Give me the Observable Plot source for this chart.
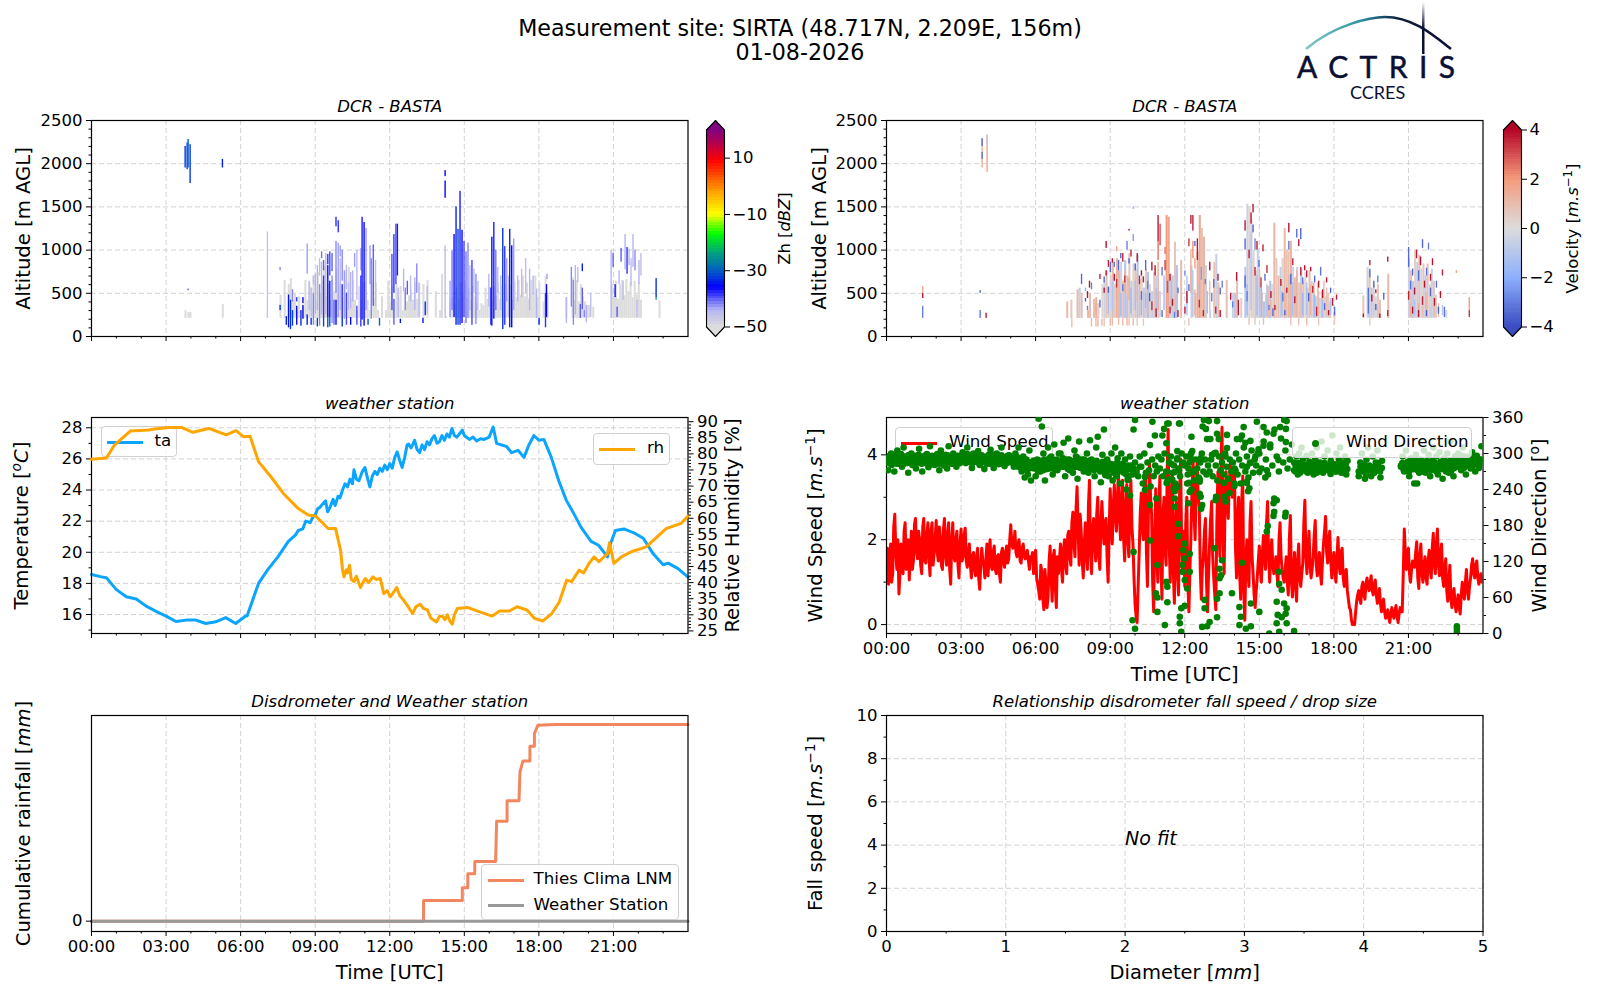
<!DOCTYPE html>
<html><head><meta charset="utf-8">
<script src="https://cdn.jsdelivr.net/npm/d3@7"></script>
<script src="https://cdn.jsdelivr.net/npm/@observablehq/plot@0.6"></script>
<style>
html,body{margin:0;padding:0;background:#fff}
#page{position:relative;width:1600px;height:1000px;overflow:hidden;font-family:"DejaVu Sans",sans-serif;color:#000}
.title{position:absolute;left:0;width:1600px;text-align:center;font-size:22.2px;line-height:24px}
.legend{position:absolute;box-sizing:border-box;background:rgba(255,255,255,.8);border:1px solid #d0d0d0;border-radius:4px;font-size:16.7px}
.legend .sw{position:absolute;height:3px}
.legend .dot{position:absolute;width:7px;height:7px;border-radius:50%;background:#008000}
.legend .tx{position:absolute;white-space:nowrap;line-height:20px}
</style></head><body><div id="page"></div>
<script>
// ---------- axis ticks ----------
const hourTicks=[0,3,6,9,12,15,18,21];
const hourMinor=[1,2,4,5,7,8,10,11,13,14,16,17,19,20,22,23];
const altTicks=[0,500,1000,1500,2000,2500];
const altMinor=[100,200,300,400,600,700,800,900,1100,1200,1300,1400,1600,1700,1800,1900,2100,2200,2300,2400];
const taTicks=[16,18,20,22,24,26,28], taMinor=[15,17,19,21,23,25,27];
const rhTicks=[25,30,35,40,45,50,55,60,65,70,75,80,85,90];
const wsTicks=[0,2,4], wsMinor=[1,3];
const wdTicks=[0,60,120,180,240,300,360], wdMinor=[30,90,150,210,270,330];
const diaTicks=[0,1,2,3,4,5], diaMinor=[0.5,1.5,2.5,3.5,4.5];
const fallTicks=[0,2,4,6,8,10], fallMinor=[1,3,5,7,9];
const zhCbarTicks=[-50,-30,-10,10], velCbarTicks=[-4,-2,0,2,4];

// ---------- colour maps ----------
const zhStops=[-50,-44,-36,-30,-24,-17,-10,-2,9,14,20];
const zhColors=["#dcdcdc","#b4b4f4","#0000ff","#0060c0","#00a080","#00ff00","#ffff00","#ffa000","#ff0000","#c00040","#800080"];
const velStops=[-4,-2,0,2,4];
const velColors=["#3b4cc0","#8db0fe","#dddcdc","#f49a7b","#b40426"];

// ---------- reflectivity: weak-echo columns, 12 per hour from 07:00, top altitude (0 = no echo) ----------
const zhGreyTop=[
0,0,0,0,0,0,0,480,0,650,0,600,
670,420,500,300,460,0,350,650,420,620,560,700,
420,740,500,640,810,460,600,420,650,520,780,480,
620,460,760,520,800,440,650,420,300,580,420,620,
640,420,300,650,440,620,300,0,460,0,300,640,
400,580,420,600,450,580,300,520,400,470,540,420,
620,430,610,0,600,0,650,0,0,0,520,0,
300,720,0,230,0,400,450,380,560,430,620,480,
620,440,560,420,580,460,380,300,380,360,560,430,
570,420,580,460,620,430,580,420,600,460,590,420,
640,450,650,480,700,460,620,430,650,500,700,450,
620,0,400,690,480,0,0,0,0,0,0,0,
0,450,0,0,680,420,650,400,600,460,400,360,
360,0,340,0,0,0,0,0,0,0,0,600,
460,640,430,600,650,470,660,520,630,450,640,480,
620,420,0,0,0,0,0,0,0,0,410,0];
const zhGreyEarly=[[3.76,300],[3.88,280],[3.96,280],[5.26,370]];
// reflectivity segments: hour, bottom m, top m, dBZ
const zhSeg=[
[3.76,1950,2200,-33],[3.84,1930,2240,-32],[3.88,1950,2280,-30],[3.96,1770,2220,-33],[5.26,1950,2050,-34],[3.88,530,550,-40],
[7.07,210,1210,-46],[7.58,300,360,-33],[7.58,760,800,-42],[7.83,130,230,-34],[7.92,100,480,-35],[8.0,80,420,-33],[8.08,120,300,-32],[8.08,400,540,-42],
[8.25,130,350,-36],[8.25,400,450,-38],[8.42,120,300,-34],[8.5,200,360,-36],[8.5,380,450,-36],
[8.67,130,250,-34],[8.67,720,1070,-43],[8.75,300,640,-45],[8.83,130,210,-33],[8.83,230,560,-45],[8.92,130,500,-42],[8.92,600,700,-45],
[9.0,260,720,-44],[9.08,110,210,-32],[9.08,300,820,-44],[9.17,120,600,-42],[9.17,700,900,-45],[9.25,250,860,-44],[9.25,900,980,-41],
[9.33,110,220,-32],[9.33,220,700,-38],[9.33,760,880,-40],[9.42,250,960,-44],[9.5,100,220,-31],[9.5,220,820,-36],[9.5,830,950,-38],[9.58,110,220,-30],[9.58,220,640,-35],[9.58,700,980,-39],[9.67,150,700,-42],[9.67,750,960,-40],
[9.75,130,420,-40],[9.83,130,420,-36],[9.83,500,1100,-42],[9.83,1270,1380,-38],[9.92,220,1080,-43],[9.92,1200,1340,-38],[10.0,300,900,-44],[10.0,920,1050,-43],[10.08,110,220,-33],[10.08,220,600,-38],[10.08,640,1000,-42],
[10.17,200,760,-43],[10.25,130,500,-39],[10.25,540,820,-45],[10.33,300,620,-45],[10.42,130,220,-36],[10.42,320,740,-44],[10.5,400,760,-44],[10.58,800,960,-43],[10.67,130,350,-39],[10.67,420,1000,-45],
[10.83,110,700,-38],[10.83,760,1020,-43],[10.88,190,1380,-37],[10.96,120,1320,-36],[11.04,300,1250,-43],[11.12,130,200,-31],[11.2,600,1050,-43],[11.25,200,900,-42],[11.33,350,1060,-40],[11.42,350,880,-45],[11.58,120,210,-30],
[12.08,300,950,-39],[12.16,500,1180,-38],[12.16,130,430,-40],[12.24,600,1300,-39],[12.3,700,1300,-37],[12.33,220,560,-44],[12.42,150,200,-35],
[12.55,520,780,-44],[12.62,300,560,-42],[12.7,480,640,-40],[12.83,400,700,-45],[13.0,300,680,-44],[13.08,500,840,-42],[13.17,220,620,-45],[13.42,240,400,-33],[13.33,150,210,-35],[13.5,260,580,-45],
[14.22,1600,1800,-36],[14.22,1850,1920,-36],[14.22,210,1050,-45],
[14.42,220,640,-43],[14.5,300,990,-41],[14.58,220,1180,-36],[14.66,130,1500,-34],[14.74,130,1240,-32],[14.82,130,1680,-37],[14.9,150,1230,-36],[14.98,220,1100,-39],[15.06,150,980,-41],[15.14,210,1080,-42],[15.22,300,820,-44],[15.3,130,880,-39],[15.38,500,780,-45],[15.46,140,720,-42],[15.54,300,640,-45],
[15.98,340,720,-44],[16.06,130,560,-38],[16.1,120,1150,-35],[16.18,200,1320,-37],[16.26,300,1000,-41],[16.34,500,800,-45],[16.46,300,700,-45],[16.54,80,1250,-33],[16.62,130,1040,-38],[16.7,400,900,-43],[16.78,220,700,-44],[16.82,100,1240,-34],[16.9,100,1050,-36],[16.98,300,1130,-43],
[17.14,400,700,-45],[17.3,450,780,-45],[17.46,500,900,-45],[17.62,300,780,-44],[17.76,480,700,-44],[17.9,210,550,-44],[18.0,130,210,-34],[18.26,100,500,-38],[18.3,220,600,-36],[18.32,660,720,-43],
[19.1,150,450,-44],[19.3,340,800,-42],[19.38,130,650,-42],[19.46,250,820,-44],[19.56,620,800,-45],[19.66,210,370,-40],[19.74,750,840,-34],[19.74,310,560,-40],[19.82,220,300,-42],[19.9,160,360,-44],[20.08,220,500,-45],
[20.9,210,1000,-44],[20.98,800,960,-40],[21.06,450,600,-35],[21.14,220,340,-40],[21.22,600,760,-44],[21.3,860,1020,-40],[21.38,420,640,-45],[21.46,770,1180,-44],[21.54,720,1030,-38],[21.62,820,1010,-44],[21.7,580,900,-45],[21.78,800,1180,-44],[21.86,760,1000,-42],[21.94,220,420,-45],[22.02,600,880,-44],[22.1,700,960,-45],
[22.71,450,670,-33],[22.71,420,450,-24]];

// ---------- velocity: columns, 12 per hour from 07:00, top altitude and background value ----------
const velTop=[
0,0,0,400,0,420,0,0,540,560,500,0,
0,300,500,0,430,450,380,0,600,640,760,580,
700,860,600,900,760,860,640,880,700,960,640,840,
780,940,660,700,560,780,740,600,520,740,560,520,
0,0,0,1400,1380,720,700,1090,820,0,880,0,
0,0,0,820,0,500,980,1400,1250,1150,820,0,
300,0,860,950,620,0,0,0,650,0,0,500,
500,650,0,440,0,800,1530,1500,1350,1000,760,1000,
620,500,400,480,580,640,600,1310,900,700,800,900,
1250,1000,700,1100,800,680,800,620,780,640,740,560,
760,640,620,460,620,440,520,640,460,500,400,0,
280,0,0,0,0,0,0,0,0,0,0,0,
0,0,470,0,800,760,560,620,460,600,420,0,
0,0,720,0,0,0,0,0,0,0,0,0,
900,760,640,1000,860,940,780,840,700,840,600,780,
640,480,0,0,0,0,300,0,0,0,0,0];
const velBase=[
0,0,0,1.0,0,0.6,0,0,1.1,-0.6,0.8,0,
0,1.1,0.9,0,1.0,1.2,0.5,0,0.2,-0.4,0.8,0.4,
-0.3,1.0,0.5,1.2,1.1,-0.4,0.8,-1.1,0.9,0.6,-0.7,0.4,
0.8,-1.0,1.0,0.2,-0.8,0.5,-1.1,0.2,-0.6,0.7,-0.9,0.4,
0,0,0,1.9,1.6,0.4,-0.6,0.7,-1.0,0,0.9,0,
0,0,0,-0.6,0,0.9,1.4,1.6,0.9,1.2,-0.5,0,
-0.6,0,0.8,-0.6,1.0,0,0,0,0.8,0,0,-0.4,
-0.8,0.8,0,0.4,0,-0.9,-0.5,0.3,0.2,-0.2,0.9,-0.5,
-0.9,0.5,-1.0,0.6,0.9,-1.1,0.2,1.1,0.6,0.9,-0.7,0.3,
1.1,0.8,-0.8,1.2,-0.3,0.9,-0.5,0.7,-1.0,0.8,0.2,-0.7,
0.9,-0.4,1.0,-0.7,0.6,-0.2,1.0,0.3,-0.5,0.6,0.7,0,
0.8,0,0,0,0,0,0,0,0,0,0,0,
0,0,0.6,0,-0.4,0.7,-0.9,0.4,-0.2,0.6,0.8,0,
0,0,1.0,0,0,0,0,0,0,0,0,0,
-0.5,0.7,-0.8,0.5,-0.6,0.9,-0.3,0.6,-0.9,0.8,0.4,-0.6,
0.7,0.5,0,0,0,0,-0.2,0,0,0,0,0];
// pale patches inside the columns: hour, bottom m, top m, m/s
const velPale=[
[8.42,110,210,1.1],[8.75,110,210,0.8],[8.92,260,520,-1.3],[9.08,120,210,0.9],[9.08,300,640,-1.1],[9.25,420,700,1.4],[9.42,230,500,-1.5],[9.5,120,210,1],[9.58,500,760,1.3],[9.67,220,460,-1],[9.75,120,210,0.8],[9.75,420,680,1.5],[9.83,260,560,-1.6],[9.92,120,210,1.1],[10.0,300,640,-1.3],[10.08,400,720,1.2],[10.25,240,480,-1.7],[10.33,120,200,0.7],[10.42,320,500,-1.5],[10.5,260,420,1.2],
[10.84,240,700,-1.2],[10.92,300,860,1.7],[11.0,220,520,-0.8],[11.16,300,700,-1.5],[11.3,220,500,1.3],[11.45,300,640,-1.4],[11.62,240,480,1.1],
[12.08,240,700,-1.2],[12.16,120,210,0.7],[12.24,500,1000,1.5],[12.32,220,760,-1.1],[12.4,240,540,1.3],[12.58,450,600,-1.5],[12.9,260,520,-1.4],[13.0,300,640,1],
[14.5,240,600,-1.5],[14.58,130,210,0.8],[14.66,300,1200,-1],[14.74,210,900,0.3],[14.82,130,210,0.6],[14.9,240,700,-1.4],[15.0,300,780,1.1],[15.08,220,560,-1.6],[15.16,130,210,0.9],[15.3,230,600,-1.2],[15.46,230,420,1.2],
[15.9,230,520,-1.5],[16.02,300,540,1.3],[16.18,220,980,1.2],[16.26,120,210,0.8],[16.34,240,620,-1.4],[16.5,220,760,1.3],[16.58,120,210,0.7],[16.66,220,620,0.8],[16.74,240,500,-1.6],[16.9,120,210,1],[16.9,240,620,-1.2],[17.06,240,600,1.2],[17.22,220,480,-1.5],[17.38,120,210,0.6],[17.38,240,520,1.1],[17.54,220,420,-1.3],[17.7,240,560,1],[17.86,240,440,-1.2],[18.02,130,210,0.5],
[19.4,220,440,-1],[19.44,120,210,0.5],[19.6,240,380,-0.8],[19.76,220,340,0.9],
[21.08,220,380,1.3],[21.24,240,420,-1.1],[21.4,230,380,1.4],[21.56,220,350,0.8],[21.72,240,500,1.1],[21.88,220,340,-0.6],[22.04,230,440,1],[22.2,220,380,0.9],[22.36,240,360,-1]];
// strong velocity segments: hour, bottom m, top m, m/s
const velSeg=[
[1.45,210,350,-3],[1.45,440,500,3.8],[1.45,500,580,1.6],[3.76,210,300,-3.2],[3.76,500,530,-3.6],[3.84,1950,2280,1.4],[3.84,2050,2130,-3.2],[3.84,2200,2290,-3.4],[4.0,210,270,3.8],[4.04,1900,2330,1.8],[4.04,2200,2330,-0.8],
[7.45,100,210,0.9],[7.84,600,720,-3.4],[8.0,520,560,-2],[8.0,400,440,-3.6],[8.08,440,520,3.8],[8.08,300,350,-3],[8.16,560,640,3.8],[8.24,540,620,-3],[8.24,110,210,1.1],
[8.42,250,380,1.4],[8.5,110,220,1.2],[8.58,660,720,3.6],[8.58,330,420,-3.4],[8.66,120,200,1.1],[8.75,500,560,3.8],[8.75,620,690,-3.4],[8.83,700,760,3.8],[8.83,1020,1100,3.9],[8.92,800,880,3.6],[8.92,500,570,-3.6],
[9.0,740,860,-3.5],[9.0,120,210,1],[9.08,850,900,3.9],[9.16,640,720,3.8],[9.16,800,860,-3.2],[9.25,980,1040,2],[9.25,560,660,3.4],[9.33,760,880,-3.4],[9.33,130,210,1],[9.42,900,960,-3.5],[9.5,860,960,3.7],[9.5,520,600,-3.2],[9.58,620,700,3.4],[9.67,1000,1100,-3],[9.67,120,220,1.2],[9.75,1220,1240,3.8],[9.75,840,900,-3.5],[9.83,920,1000,3.7],[9.92,1100,1180,-2.4],[9.92,1470,1500,-1.8],[10.0,760,840,-3.6],[10.08,860,960,3.8],[10.08,120,210,0.6],[10.17,600,700,3.6],[10.25,700,760,3.9],[10.25,420,520,-3.2],[10.33,620,690,3.7],[10.42,760,880,-3.4],[10.5,540,640,-3],[10.58,400,500,-3.6],[10.67,300,400,3.5],[10.67,760,860,3.8],
[10.8,700,820,3.8],[10.84,220,320,3.7],[10.92,1100,1400,3.8],[10.92,880,1100,2.6],[11.0,1050,1300,3.1],[11.08,700,800,-3.2],[11.08,220,300,-3.4],[11.2,760,880,3.3],[11.2,950,1030,2.6],[11.3,500,640,-3.2],[11.4,640,720,3.8],[11.4,260,340,3.6],[11.5,350,430,3.8],[11.58,210,280,-3],[11.72,500,560,-3.5],[11.72,220,300,3.8],
[12.0,260,340,3.8],[12.0,700,760,-2.8],[12.08,380,520,3.8],[12.16,1040,1130,3.4],[12.16,520,600,-3.4],[12.24,1300,1400,3.8],[12.32,900,1100,2.2],[12.32,1220,1400,3.7],[12.4,780,900,1.8],[12.4,1040,1100,-3.4],[12.5,880,1130,3.8],[12.58,330,420,3.5],[12.66,650,800,-2.4],[12.74,230,300,3.6],
[12.82,600,660,-3],[13.0,760,860,3.9],[13.08,400,500,-3],[13.16,560,660,-3.4],[13.24,260,340,3.6],[13.33,640,720,3.8],[13.42,480,560,-3.4],[13.42,220,300,3.8],[13.5,560,640,-3],
[13.84,420,500,3.8],[13.92,330,400,-3],[14.08,640,740,3.9],[14.15,240,420,3.8],[14.42,560,700,-3.4],[14.42,1220,1340,3.8],[14.42,1000,1130,-3.5],[14.5,400,520,-3],[14.58,900,1000,3.8],[14.66,1300,1430,3.8],[14.74,1430,1530,3.9],[14.74,1200,1290,-3.6],[14.82,1000,1130,-2.8],[14.82,700,800,3.6],[14.9,1000,1100,3.8],[14.98,800,880,-3.4],[15.06,560,680,3.4],[15.14,980,1060,3.7],[15.22,640,720,-3.4],[15.3,730,820,3.5],[15.38,300,360,-3],[15.46,440,520,3.8],[15.54,230,320,-3.4],[15.62,300,360,3.7],
[15.86,580,660,3.8],[15.94,400,500,-3.2],[16.02,240,300,-3.6],[16.1,500,560,3.8],[16.18,1200,1310,3.9],[16.18,1000,1100,-3.2],[16.26,600,720,-3.5],[16.34,820,900,3.7],[16.42,380,460,3.8],[16.5,1140,1240,-3.4],[16.58,1040,1120,3.8],[16.66,1120,1250,-3.5],[16.66,700,800,3.6],[16.74,600,680,-3],[16.82,760,820,3.9],[16.9,680,760,3.8],[16.98,400,500,-3.5],[17.06,750,800,3.8],[17.14,500,580,3.5],[17.22,620,700,-3.4],[17.3,230,340,3.6],[17.38,560,640,3.8],[17.46,700,800,-3.2],[17.54,440,540,3.8],[17.62,300,380,-3.4],[17.7,620,680,3.8],[17.78,240,300,3.9],[17.86,500,560,-3.6],[17.94,350,440,3.8],[18.02,240,340,-3.4],[18.1,420,480,3.7],
[19.18,220,260,3.8],[19.38,260,560,-3.2],[19.44,680,780,-3.2],[19.44,820,880,3.7],[19.52,400,480,3.8],[19.6,560,640,-3.4],[19.68,300,370,-3.6],[19.68,500,540,3.8],[19.76,620,700,-3],[19.84,210,260,3.8],[20.0,420,500,-3.5],[20.16,860,920,3.8],[20.16,230,300,3.6],
[21.0,800,1030,-3.4],[21.0,420,520,3.7],[21.08,540,640,-3.2],[21.16,260,340,3.8],[21.16,700,780,-3.5],[21.24,480,560,3.8],[21.32,900,1000,3.7],[21.4,640,760,-3.4],[21.4,220,300,3.8],[21.48,820,920,3.9],[21.56,1020,1120,-3.5],[21.56,360,460,3.6],[21.64,560,640,3.8],[21.72,700,790,-3.3],[21.72,230,300,-3.6],[21.8,1000,1080,-3],[21.88,460,560,-3.4],[21.88,640,720,3.8],[21.96,820,900,3.8],[22.04,350,440,3.7],[22.12,560,640,-3.4],[22.2,260,340,-3.6],[22.28,440,520,3.8],[22.36,700,770,3.6],[22.44,220,340,-3.2],[22.92,730,760,2],
[23.44,220,300,3.4],[23.44,300,450,2]];

// ---------- weather station ----------
const taHours=[0,0.4,0.6,1.0,1.4,1.8,2.2,2.6,3.0,3.4,3.8,4.2,4.6,5.0,5.4,5.8,6.2,6.26,6.72,7.1,7.5,7.92,8.2,8.32,8.5,8.62,8.8,8.92,9.0,9.1,9.2,9.3,9.42,9.5,9.6,9.72,9.8,9.92,10.0,10.1,10.2,10.3,10.4,10.5,10.56,10.66,10.76,10.9,11.0,11.1,11.2,11.3,11.4,11.5,11.6,11.7,11.8,11.9,12.0,12.1,12.2,12.3,12.4,12.5,12.6,12.7,12.76,12.86,13.0,13.1,13.2,13.3,13.4,13.5,13.6,13.7,13.8,13.9,14.0,14.1,14.2,14.3,14.4,14.5,14.6,14.7,14.8,14.92,15.0,15.2,15.35,15.5,15.65,15.8,16.0,16.16,16.3,16.7,16.9,17.16,17.4,17.6,17.8,18.0,18.2,18.5,18.8,19.1,19.4,19.7,20.1,20.4,20.76,20.88,21.08,21.42,21.82,22.2,22.6,23.0,23.2,23.6,24];
const taValues=[18.57,18.42,18.36,17.6,17.14,17.0,16.54,16.2,15.9,15.55,15.64,15.64,15.42,15.53,15.8,15.42,15.9,15.9,18.0,18.9,19.7,20.7,21.1,21.4,21.5,22.0,21.9,22.3,22.4,22.8,22.9,23.1,23.3,22.6,22.9,23.4,23.0,23.6,23.5,24.0,24.4,24.2,24.7,24.4,25.3,24.7,24.6,25.2,25.45,24.8,24.2,24.9,25.2,25.0,25.4,25.2,25.6,25.3,25.7,25.4,26.1,26.45,25.9,25.45,26.1,26.9,26.95,26.7,27.2,26.6,26.4,26.9,26.6,27.1,26.9,27.3,27.5,27.0,27.1,27.5,27.2,27.6,27.4,27.95,27.5,27.4,27.6,27.85,27.5,27.25,27.4,27.15,27.3,27.25,27.4,28.05,27.0,26.8,26.4,26.55,26.1,26.9,27.5,27.2,27.25,26.1,24.6,23.35,22.5,21.6,20.7,20.45,19.7,20.55,21.4,21.5,21.25,20.9,19.9,19.2,19.3,18.95,18.4];
const rhHours=[0,0.6,0.92,1.56,2.32,2.52,3.12,3.62,4.08,4.72,5.42,5.82,6.12,6.38,6.72,7.22,7.72,8.32,8.72,9.02,9.52,9.82,10.02,10.1,10.16,10.25,10.3,10.38,10.45,10.56,10.66,10.82,10.92,11.02,11.15,11.32,11.45,11.62,11.76,11.9,12.02,12.15,12.28,12.4,12.5,12.7,12.92,13.05,13.22,13.35,13.52,13.65,13.88,14.0,14.12,14.22,14.32,14.42,14.52,14.6,14.72,15.12,15.62,16.12,16.42,16.82,17.12,17.52,17.82,18.16,18.52,18.82,19.12,19.32,19.62,19.8,20.02,20.22,20.42,20.76,20.84,21.02,21.32,21.72,22.32,23.12,23.72,24];
const rhValues=[78.3,78.7,82.7,87.1,87.4,87.7,88.2,88.2,86.7,87.9,85.9,87.2,85.3,85.5,77.6,72.9,67.7,63,61,60.7,56.8,56.8,50.1,44,41.8,44,43,45.4,41,40.3,42,38.5,40,41.3,40,41.8,41,41.3,36.6,37.5,35.6,37,38.5,36,35.1,33,30.4,32.5,33.3,32,31.5,29,27.8,29.5,29.6,28.5,30,28,27.1,30,32,32.3,30.9,29.6,31.2,31.2,32.5,31.5,28.9,28.1,30.4,34,40.8,40.3,43.9,43,46,48,46.5,49,52.4,46,48,49.6,51.1,56.8,58.4,60.7];
// wind speed: 12 readings per hour from 00:00
const windSpeedA=[
1.3,0.95,1.9,1.2,2.6,1.3,0.72,1.9,1.2,2.4,1.55,1.05,
2.2,1.5,2.5,1.55,2.0,1.2,2.5,1.45,2.4,1.15,2.4,1.7,
2.45,1.5,2.05,1.3,2.5,1.4,2.4,0.95,2.4,1.5,2.2,1.1,
2.25,1.6,2.27,1.35,1.9,1.1,1.7,1.15,1.8,0.83,1.8,1.4,
1.55,1.15,2.0,1.3,1.85,1.2,1.65,1.0,1.8,1.35,1.85,1.55,
2.35,1.8,2.2,1.6,2.0,1.45,1.9,1.55,1.75,1.3,1.5,1.2,
1.75,0.95,0.6,1.25,0.35,0.95,0.65,1.85,0.55,1.75,0.4,1.2,
1.9,1.0,2.0,1.2,2.2,1.4,2.65,1.6,3.25,1.4,2.2,1.1,
2.4,1.3,3.4,1.2,2.5,1.5,3.0,1.3,2.9,1.9,2.5,1.0,
3.2,1.9,3.3,2.2,3.6,2.0,3.4,1.5,3.3,1.6,3.4,1.9,
0.5,0.05,1.7,3.1,2.0,3.6,0.9,3.8,2.6,0.3,3.2,1.0,
3.5,0.6,3.0,1.4,4.6,1.0,3.6,0.5,2.9,0.7,3.9,1.2,
0.9,3.0,0.3,2.1,3.9,2.0,3.8,2.8,0.6,1.6,2.5,0.3,
1.9,2.9,1.1,0.35,3.6,1.6,4.65,1.2,3.6,2.5,3.8,3.0,
3.7,1.1,3.0,0.6,3.5,0.1,2.0,0.9,2.9,1.2,0.4,1.1,
1.85,1.0,2.1,1.3,2.9,1.0,2.0,1.2,1.6,0.9,2.4,1.3,
1.0,1.6,0.7,2.57,0.65,1.7,0.55,1.9,0.9,1.45,2.93,1.2,
2.2,1.1,1.6,2.45,1.15,1.7,0.95,1.9,2.55,1.45,2.2,1.1,
1.7,1.0,2.05,1.2,1.8,0.9,1.3,0.6,0.35,0.0,0.0,0.55,
0.8,0.5,1.0,0.6,1.1,0.8,1.15,0.7,1.05,0.5,0.85,0.3,
0.6,0.15,0.35,0.05,0.4,0.15,0.45,0.05,0.4,0.3,2.25,1.3,
1.8,1.0,1.5,1.35,1.95,0.85,1.9,1.0,1.6,0.95,1.75,1.1,
2.15,1.2,2.25,1.15,1.9,0.9,1.55,0.55,1.4,0.4,0.85,0.3,
0.7,0.25,1.0,0.6,1.3,0.6,1.1,1.55,1.1,1.5,0.95,1.2];
// readings between the ones above (half a step later)
const windSpeedB=[
1.8,1.4,1.0,2.3,1.7,2.0,1.2,1.5,2.2,1.3,2.0,1.6,
1.3,2.35,1.7,2.2,1.4,2.3,1.5,2.1,1.6,2.2,1.4,2.0,
1.7,2.3,1.4,2.25,1.6,2.1,1.3,2.0,1.6,2.0,1.4,1.9,
1.5,2.1,1.5,1.7,1.4,1.6,1.3,1.6,1.1,1.4,1.5,1.1,
1.9,1.5,1.4,1.7,1.3,1.6,1.2,1.7,1.5,1.7,1.45,2.0,
1.9,1.9,1.7,1.9,1.5,1.8,1.6,1.7,1.5,1.6,1.7,1.55,
1.1,0.8,1.4,0.6,1.3,0.4,1.5,1.1,1.6,0.9,1.6,1.5,
1.3,1.8,1.4,2.1,1.6,2.4,1.9,2.7,2.3,2.6,1.5,1.9,
1.6,2.8,1.7,2.2,1.9,2.6,1.6,2.4,2.3,2.4,1.6,2.2,
2.5,2.8,2.6,3.0,2.5,2.9,2.0,2.8,2.0,2.9,2.3,1.1,
0.2,0.9,2.6,2.3,3.3,1.7,2.8,3.0,1.0,2.1,1.6,2.8,
1.4,2.6,1.8,3.6,1.9,3.0,1.2,2.4,1.2,3.1,1.9,2.2,
2.4,1.0,1.3,3.2,2.6,3.2,3.0,1.3,1.3,2.2,1.0,1.2,
2.5,1.6,0.7,2.4,2.2,3.9,2.0,3.0,2.9,3.3,3.3,3.4,
1.8,2.5,1.2,2.9,0.8,1.5,1.3,2.4,1.6,0.7,0.8,1.5,
1.3,1.7,1.6,2.4,1.6,1.6,1.4,1.3,1.2,2.0,1.6,1.1,
1.3,1.0,2.0,1.0,1.3,0.9,1.5,1.1,1.2,2.4,1.6,1.8,
1.4,1.3,2.1,1.4,1.4,1.2,1.5,2.2,1.7,2.0,1.5,1.5,
1.2,1.6,1.4,1.7,1.1,1.2,0.8,0.4,0.1,0.05,0.3,0.7,
0.6,0.9,0.7,0.95,0.9,1.0,0.8,0.95,0.7,0.7,0.5,0.5,
0.3,0.2,0.15,0.25,0.25,0.3,0.2,0.25,0.3,1.2,1.7,1.6,
1.2,1.3,1.4,1.7,1.1,1.6,1.2,1.4,1.1,1.5,1.3,1.8,
1.4,1.9,1.4,1.7,1.1,1.3,0.8,1.0,0.6,0.7,0.5,0.5,
0.4,0.7,0.8,1.0,0.8,0.9,1.4,1.2,1.4,1.1,1.1,1.0];
// wind direction: [start hour, end hour, degrees read in time order]
const windDirBands=[
[0,1,[288,272,295,300,285,270,292,305,283,296,278,310,290,287,268,294]],
[1,2,[300,282,291,275,296,308,286,270,293,284,299,277,312,289,292,281]],
[2,3,[286,294,272,305,290,280,298,275,312,288,283,300,293,278,296,285]],
[3,4,[295,302,290,284,310,297,286,276,300,292,288,304,281,295,289,274]],
[4,5,[291,283,298,306,287,276,293,300,282,289,310,294,279,291,285,297]],
[5,6,[286,292,278,300,288,310,283,270,295,260,290,265,305,255,285,275]],
[6,7,[262,290,358,270,345,300,255,282,310,275,295,265,315,288,272,300]],
[7,8,[300,278,318,262,290,325,272,285,268,305,295,258,320,280,290,270]],
[8,9,[282,300,268,322,290,275,262,310,328,284,252,298,340,270,290,262]],
[9,10,[283,300,255,278,310,262,292,272,250,300,283,268,290,240,275,262,295,280,265,275]],
[10,11,[285,270,262,295,278,250,300,268,285,272,245,290,262,280,270,295]],
[11,12,[275,290,262,300,270,255,285,295,268,280,250,290,275,262,300,285]],
[12,13,[280,295,265,285,300,270,255,290,275,260,285,300,270,290,265,280]],
[13,14,[270,290,262,300,280,255,295,272,285,265,300,278,258,290,270,285]],
[14,15,[275,300,265,290,250,280,310,270,295,260,285,305,268,290,280,300]],
[15,16.4,[300,275,320,290,265,310,280,340,295,270,325,285,305,275,290,315]],
[16.4,17,[285,270,295,265,300,278,310,290,280,272,296,268]],
[17,18,[280,270,300,265,290,310,275,285,320,268,295,280,305,272,288,330]],
[18,18.6,[282,270,300,278,290,310,268,285,275,295,265,288]],
[19,20,[262,285,300,270,258,290,310,275,262,295,268,285,305,272,260,288]],
[20.7,21.5,[280,295,270,305,285,262,292,275,250,298,282,268]],
[21.5,23,[290,275,305,268,288,298,262,285,310,272,295,265,302,280,258,292,276,300,268,320,288,262,295,278]],
[23,24,[300,282,272,310,290,265,295,285,275,302,288,270,296,280,290,312]]];
// the dense core of the wind direction band
const windDirCore=[
[0,3,[286,292,284,296,288,281,294,298,286,290,283,296,291,285,299,288,282,295,287,293,284,297,290,286,294,281,292,288,296,284,290,298,286,293,283,295,289,285,297,291,284,294,288,282,296,290,287,293,285,299,289,283,292,296,286,290,294,284,288,297,292,285,290,295,283,288,296,291,286,293,287,284]],
[3,6,[292,297,288,295,290,285,299,293,287,296,291,284,294,289,298,286,292,295,283,290,297,288,293,285,294,290,296,287,283,292,298,289,285,294,291,287,295,283,290,297,288,286,293,291,284,296,289,293,286,290,284,292,280,288,294,278,290,284,276,288,282,274,290,280,272,286,278,284,276,282,288,280]],
[6,9,[278,284,270,288,276,282,272,290,280,274,286,292,278,284,288,274,282,290,276,286,280,284,292,278,286,282,274,290,280,284,276,288,282,278,292,284,276,286,280,290,274,284,278,288,282,276,286,272,280,288,284,276,270,282,286,278,264,284,280,272]],
[9,10,[275,282,268,278,285,270,276,282,272,265,280,274,278,268]],
[16.4,18.6,[272,280,276,284,268,278,282,274,270,280,286,276,272,284,278,268,274,282,276,270,284,278,272,280,266,276,282,274,270,278,284,272,276,268,282,274]],
[19,20,[270,278,274,282,266,276,280,272,268,278,274,284,270,276]],
[20.7,24,[278,284,272,282,276,286,270,280,284,274,278,288,272,282,276,284,270,280,286,274,278,282,272,288,276,284,270,280,278,286,274,282,276,270,284,278,288,272,282,276,284,292,278,286,282,296,276,288,284,292,280,286,278,294,284,288,282,276,290,284]]];
const windDirScatter=[[9.9,22],[10,8],[9.94,136],[10.6,155],[10.9,114],[10.84,67],[10.9,60],[10.9,36],[11.2,14],[11.3,78],[11.26,86],[11.3,52],[11.74,183],[11.74,162],[12,150],[11.94,139],[12.2,133],[12,125],[11.9,114],[11.9,103],[12.2,103],[12,89],[12.1,75],[11.86,42],[12,46],[11.8,28],[11.8,17],[11.86,3],[12.8,56],[12.8,42],[13.2,142],[13.5,122],[13.4,108],[13.46,97],[13.4,92],[13.3,58],[13.3,27],[13,19],[12.7,11],[12.9,12],[13.4,67],[13.9,67],[14.3,118],[14.2,44],[14.26,28],[14.2,14],[14.46,8],[14.66,12],[14.66,50],[15,36],[15.34,179],[15.7,222],[15.6,225],[15.6,203],[16.06,201],[15.8,103],[15.8,83],[15.9,73],[15.7,53],[16,50],[16.1,42],[15.74,31],[15.9,27],[16.06,33],[15.7,17],[16.1,17],[15.4,0],[16.4,4],[15.8,3],
[11.35,350],[11.77,350],[11.17,341],[12.77,356],[12.97,354],[13.3,354],[12.72,345],[12.85,341],[12.9,324],[13.03,324],[13.3,333],[13.37,324],[13.7,331],[12.27,328],[13.7,309],[13.24,301],[11.7,304],[11.7,292],[12.3,304],[12.24,292],[12.64,292],[13.1,298],[13.64,295],[11.45,283],[11.6,269],[11.77,272],[11.27,251],[11.4,257],[11.6,237],[11.6,225],[12.15,275],[12.37,269],[12.6,257],[12.64,228],[12.17,251],[12.27,240],[12.66,208],[12.15,217],[13.24,222],[13.64,220],[13.57,251],[14.04,272],[14,246],[13.8,234],[14.55,237],[14.5,251],[14.5,278],[14.37,344],[14.24,324],[14.3,330],[14.1,324],[14.44,318],[14.64,321],[14.9,353],[15.17,344],[15.3,335],[15.57,333],[15.84,344],[16,356],[16.1,354],[16.07,341],[16.07,319],[15.17,313],[15.44,315],[14.97,307],[14.84,295],[14.64,284],[15,269],[15.24,260],[15.3,272],[15.77,289],[15.57,217],[15.57,196],[16.04,195],[15.3,170],
[10,356],[9.94,340],[10.7,353],[10.6,314],[11.1,330],[11.26,317],[11.3,350],[11.8,350],[10.8,330],[10.2,278],[10.4,261],[9.7,256],[9.8,230],[10.4,239],[10.6,214],[10.86,225],[11.5,256],[11.7,244],[11.6,211],[11.56,241],[12.1,250],[12.6,253],[12.2,236],[12.6,233],[12.7,214],[13.26,228],[13.6,228],[14.5,253],[14.6,242],[14,250],
[21.35,250],[22.95,8],[22.95,3],[22.95,12]];
// cumulative rainfall
const rainHours=[0,13.36,13.36,14.92,14.92,15.14,15.14,15.42,15.42,16.26,16.3,16.72,16.72,17.2,17.24,17.36,17.64,17.64,17.82,17.82,17.96,18.66,24];
const thiesRain=[0,0,0.62,0.62,1.0,1.0,1.42,1.42,1.79,1.79,2.99,2.99,3.61,3.61,4.47,4.8,4.8,5.24,5.24,5.62,5.87,5.89,5.89];
const stationHours=[0,24];
const stationRain=[0,0];

// ---------- layout ----------
const FONT='"DejaVu Sans",sans-serif';
const M={l:90,r:110,t:30,b:60};
const W=596.5, H=216;
const colX=[90.5,886];
const rowY=[120,417.3,714.5];
const page=document.getElementById("page");
const labelHTML={
 "Zh [dBZ]":'Zh [<tspan font-style="italic">dBZ</tspan>]',
 "Velocity [m.s-1]":'Velocity [<tspan font-style="italic">m.s</tspan><tspan dy="-6" font-size="70%">−1</tspan><tspan dy="6">]</tspan>',
 "Wind Speed [m.s-1]":'Wind Speed [<tspan font-style="italic">m.s</tspan><tspan dy="-7" font-size="70%">−1</tspan><tspan dy="7">]</tspan>',
 "Fall speed [m.s-1]":'Fall speed [<tspan font-style="italic">m.s</tspan><tspan dy="-7" font-size="70%">−1</tspan><tspan dy="7">]</tspan>',
 "Temperature [oC]":'Temperature [<tspan font-style="italic" dy="-7" font-size="70%">o</tspan><tspan dy="7" font-style="italic">C</tspan>]',
 "Wind Direction [o]":'Wind Direction [<tspan dy="-7" font-size="70%">o</tspan><tspan dy="7">]</tspan>',
 "Cumulative rainfall [mm]":'Cumulative rainfall [<tspan font-style="italic">mm</tspan>]',
 "Diameter [mm]":'Diameter [<tspan font-style="italic">mm</tspan>]'
};
function mount(marks,{left,top,w=W,h=H,x=[0,24],y,color}){
  const svg=Plot.plot({width:w+M.l+M.r,height:h+M.t+M.b,marginLeft:M.l,marginRight:M.r,marginTop:M.t,marginBottom:M.b,
    x:{type:"linear",domain:x,axis:null},y:{type:"linear",domain:y,axis:null},color,
    style:{background:"transparent",fontFamily:FONT,fontSize:"16px",overflow:"visible",color:"#000"},marks});
  svg.style.position="absolute";svg.style.left=(left-M.l)+"px";svg.style.top=(top-M.t)+"px";
  d3.select(svg).selectAll("text").each(function(){const t=this.textContent;if(labelHTML[t]){const n=this.querySelector("tspan")||this;n.innerHTML=labelHTML[t];}});
  page.appendChild(svg);return svg;
}
const grid={stroke:"#d3d3d3",strokeOpacity:1,strokeDasharray:"5,3",strokeWidth:1};
const gridX=(t=hourTicks)=>Plot.gridX(t,grid);
const gridY=t=>Plot.gridY(t,grid);
const fmtHour=h=>String(h).padStart(2,"0")+":00";
const fmtNum=d=>String(d).replace("-","−");
const axX=(labels,t=hourTicks,m=hourMinor,f=fmtHour)=>[
  Plot.axisX({ticks:t,tickSize:5,tickPadding:4,fontSize:16.5,tickFormat:labels?f:()=>"",label:null}),
  Plot.axisX({ticks:m,tickSize:2.5,tickFormat:()=>"",label:null})];
const axY=(t,m,anchor="left")=>[
  Plot.axisY({anchor,ticks:t,tickSize:5,tickPadding:4,fontSize:16.5,tickFormat:fmtNum,label:null}),
  ...(m?[Plot.axisY({anchor,ticks:m,tickSize:2.5,tickFormat:()=>"",label:null})]:[])];
const yLabel=(s,dx,side="left",fs=19.6)=>Plot.text([s],{text:d=>d,frameAnchor:side,textAnchor:"middle",rotate:-90,dx,fontSize:fs});
const title=s=>Plot.text([s],{text:d=>d,frameAnchor:"top",dy:-20,fontStyle:"italic",fontSize:16.5});
const xLabel=s=>Plot.text([s],{text:d=>d,frameAnchor:"bottom",dy:47,fontSize:19.5});
const frame=Plot.frame({stroke:"#000",strokeWidth:1.2});

function legend({left,top,width,height,items}){
  const d=document.createElement("div");d.className="legend";
  d.style.cssText=`left:${left}px;top:${top}px;width:${width}px;height:${height}px`;
  items.forEach(it=>{
    if(it.dot){const s=document.createElement("span");s.className="dot";s.style.cssText=`left:${it.sx+14}px;top:${it.y-3.5}px`;d.appendChild(s);}
    else{const s=document.createElement("span");s.className="sw";s.style.cssText=`left:${it.sx}px;top:${it.y-1.5}px;width:36px;background:${it.color}`;d.appendChild(s);}
    const t=document.createElement("span");t.className="tx";t.textContent=it.text;t.style.cssText=`left:${it.tx}px;top:${it.y-12}px`;d.appendChild(t);
  });
  page.appendChild(d);
}

// ---------- derived tables ----------
const stepH=1/12, segW=0.055;
const zhColumns=[];
zhGreyTop.forEach((top,i)=>{if(top)zhColumns.push([7+i*stepH,210,top,-50]);});
zhGreyEarly.forEach(([h,top])=>zhColumns.push([h,210,top,-50]));
const velColumns=[];
velTop.forEach((top,i)=>{if(top)velColumns.push([7+i*stepH,210,top,velBase[i]]);});
const radarMark=(rows,width)=>Plot.rect(rows,{x1:d=>d[0],x2:d=>d[0]+width,y1:d=>d[1],y2:d=>d[2],fill:d=>d[3],clip:true});
const ta=taHours.map((h,i)=>[h,taValues[i]]);
const rh=rhHours.map((h,i)=>[h,rhValues[i]]);
const ws=[];
windSpeedA.forEach((v,i)=>{ws.push([i*stepH,v]);ws.push([(i+.5)*stepH,windSpeedB[i]]);});
const wd=[...windDirScatter];
[...windDirBands,...windDirCore].forEach(([a,b,vals])=>vals.forEach((v,i)=>wd.push([a+(b-a)*i/vals.length,v])));
const rain1=rainHours.map((h,i)=>[h,thiesRain[i]]);
const rain2=stationHours.map((h,i)=>[h,stationRain[i]]);

// ---------- header ----------
[["Measurement site: SIRTA (48.717N, 2.209E, 156m)",16],["01-08-2026",40]].forEach(([s,y])=>{
  const d=document.createElement("div");d.className="title";d.style.top=y+"px";d.textContent=s;page.appendChild(d);});
const logo=document.createElement("div");
logo.style.cssText="position:absolute;left:1290px;top:0;width:180px;height:105px";
logo.innerHTML=`<svg width="180" height="105" viewBox="1290 0 180 105" xmlns="http://www.w3.org/2000/svg">
<defs><linearGradient id="arcG" gradientUnits="userSpaceOnUse" x1="1306" y1="0" x2="1451" y2="0"><stop offset="0" stop-color="#7fcac4"/><stop offset=".38" stop-color="#2b8fa0"/><stop offset=".65" stop-color="#0c1a3c"/><stop offset="1" stop-color="#0b1033"/></linearGradient>
<linearGradient id="mastG" gradientUnits="userSpaceOnUse" x1="0" y1="2" x2="0" y2="54"><stop offset="0" stop-color="#ffffff"/><stop offset=".5" stop-color="#0b1033"/></linearGradient></defs>
<path d="M1306 49 C1335 24,1372 17,1385 17 C1412 17,1432 34,1451 49" fill="none" stroke="url(#arcG)" stroke-width="2.6"/>
<rect x="1422" y="2" width="2.5" height="52" fill="url(#mastG)"/>
<text x="1297" y="78" font-family="Lato,'Open Sans',sans-serif" font-size="30" fill="#0b1033" stroke="#0b1033" stroke-width=".5" textLength="158" lengthAdjust="spacing">ACTRIS</text>
<text x="1350" y="99" font-family="Lato,'Open Sans',sans-serif" font-size="18" fill="#0b1033">CCRES</text></svg>`;
page.appendChild(logo);

// ---------- panel 1 and 2: radar ----------
mount([gridX(),gridY(altTicks),radarMark(zhColumns,stepH),radarMark(zhSeg,segW),...axX(false),...axY(altTicks,altMinor),yLabel("Altitude [m AGL]",-68),title("DCR - BASTA"),frame],
  {left:colX[0],top:rowY[0],y:[0,2500],color:{type:"linear",domain:zhStops,range:zhColors}});
mount([gridX(),gridY(altTicks),radarMark(velColumns,stepH),radarMark(velPale,segW),radarMark(velSeg,segW),...axX(false),...axY(altTicks,altMinor),yLabel("Altitude [m AGL]",-67),title("DCR - BASTA"),frame],
  {left:colX[1],top:rowY[0],y:[0,2500],color:{type:"linear",domain:velStops,range:velColors}});

// colour bars
function colorbar({left,vmin,vmax,step,stops,colors,ticks,label,dx,fs}){
  const e=(vmax-vmin)*9.5/197;
  const bands=d3.range(vmin,vmax,step);
  const outline=[[0,vmin],[.5,vmin-e],[1,vmin],[1,vmax],[.5,vmax+e],[0,vmax],[0,vmin]];
  mount([
    Plot.rect(bands,{x1:0,x2:1,y1:d=>d,y2:d=>d+step*1.05,fill:d=>d+step/2,shapeRendering:"crispEdges"}),
    Plot.line([[0,vmax],[.5,vmax+e],[1,vmax],[0,vmax]],{x:d=>d[0],y:d=>d[1],fill:colors[colors.length-1],stroke:"none"}),
    Plot.line([[0,vmin],[.5,vmin-e],[1,vmin],[0,vmin]],{x:d=>d[0],y:d=>d[1],fill:colors[0],stroke:"none"}),
    Plot.line(outline,{x:d=>d[0],y:d=>d[1],stroke:"#000",strokeWidth:1.1}),
    Plot.axisY({anchor:"right",ticks,tickSize:5,tickPadding:3,fontSize:16.5,tickFormat:fmtNum,label:null}),
    yLabel(label,dx,"right",fs)],
    {left,top:rowY[0],w:18,x:[0,1],y:[vmin-e,vmax+e],color:{type:"linear",domain:stops,range:colors}});
}
colorbar({left:706,vmin:-50,vmax:20,step:1,stops:zhStops,colors:zhColors,ticks:zhCbarTicks,label:"Zh [dBZ]",dx:60,fs:16.4});
colorbar({left:1502.5,vmin:-4,vmax:4,step:.1,stops:velStops,colors:velColors,ticks:velCbarTicks,label:"Velocity [m.s-1]",dx:51,fs:16.5});

// ---------- panel 3: temperature and humidity ----------
mount([gridX(),gridY(taTicks),
  Plot.line(ta,{x:d=>d[0],y:d=>d[1],stroke:"#0ba5ff",strokeWidth:3}),
  ...axX(false),...axY(taTicks,taMinor),yLabel("Temperature [oC]",-70),title("weather station"),frame],
  {left:colX[0],top:rowY[1],y:[14.78,28.66]});
legend({left:100.5,top:426,width:76,height:31,items:[{color:"#0ba5ff",sx:5,tx:53,y:15,text:"ta"}]});
mount([Plot.line(rh,{x:d=>d[0],y:d=>d[1],stroke:"#ffa500",strokeWidth:3}),
  ...axY(rhTicks,d3.range(25,91).filter(v=>v%5),"right"),yLabel("Relative Humidity [%]",45,"right")],
  {left:colX[0],top:rowY[1],y:[24.2,91.3]});
legend({left:593,top:433,width:77,height:32,items:[{color:"#ffa500",sx:5,tx:53,y:15,text:"rh"}]});

// ---------- panel 4: wind ----------
mount([gridX(),gridY(wsTicks),
  Plot.line(ws,{x:d=>d[0],y:d=>d[1],stroke:"#ff0000",strokeWidth:3,clip:true}),
  ...axX(true),...axY(wsTicks,wsMinor),yLabel("Wind Speed [m.s-1]",-71),title("weather station"),xLabel("Time [UTC]"),frame],
  {left:colX[1],top:rowY[1],y:[-0.21,4.88]});
legend({left:895,top:427,width:158,height:31,items:[{color:"#ff0000",sx:5,tx:53,y:15,text:"Wind Speed"}]});
mount([Plot.dot(wd,{x:d=>d[0],y:d=>d[1],r:3.3,fill:"#008000",stroke:"none",clip:true}),
  ...axY(wdTicks,wdMinor,"right"),yLabel("Wind Direction [o]",57,"right")],
  {left:colX[1],top:rowY[1],y:[0,360]});
legend({left:1292,top:427,width:180,height:31,items:[{dot:true,sx:5,tx:53,y:15,text:"Wind Direction"}]});

// ---------- panel 5: rainfall ----------
mount([gridX(),
  Plot.line(rain1,{x:d=>d[0],y:d=>d[1],stroke:"#f2875f",strokeWidth:3}),
  Plot.line(rain2,{x:d=>d[0],y:d=>d[1],stroke:"#999999",strokeWidth:3}),
  ...axX(true),...axY([0]),yLabel("Cumulative rainfall [mm]",-68),title("Disdrometer and Weather station"),xLabel("Time [UTC]"),frame],
  {left:colX[0],top:rowY[2],y:[-0.31,6.16]});
legend({left:480.5,top:863.5,width:198,height:56,items:[
  {color:"#f2875f",sx:6,tx:52,y:15.5,text:"Thies Clima LNM"},{color:"#999999",sx:6,tx:52,y:41,text:"Weather Station"}]});

// ---------- panel 6: fall speed ----------
mount([gridX(diaTicks),gridY(fallTicks),
  Plot.text(["No fit"],{text:d=>d,x:()=>2,y:()=>4,textAnchor:"start",lineAnchor:"bottom",fontStyle:"italic",fontSize:19}),
  ...axX(true,diaTicks,diaMinor,d=>String(d)),...axY(fallTicks,fallMinor),yLabel("Fall speed [m.s-1]",-71),
  title("Relationship disdrometer fall speed / drop size"),xLabel("Diameter [mm]"),frame],
  {left:colX[1],top:rowY[2],x:[0,5],y:[0,10]});
</script></body></html>
